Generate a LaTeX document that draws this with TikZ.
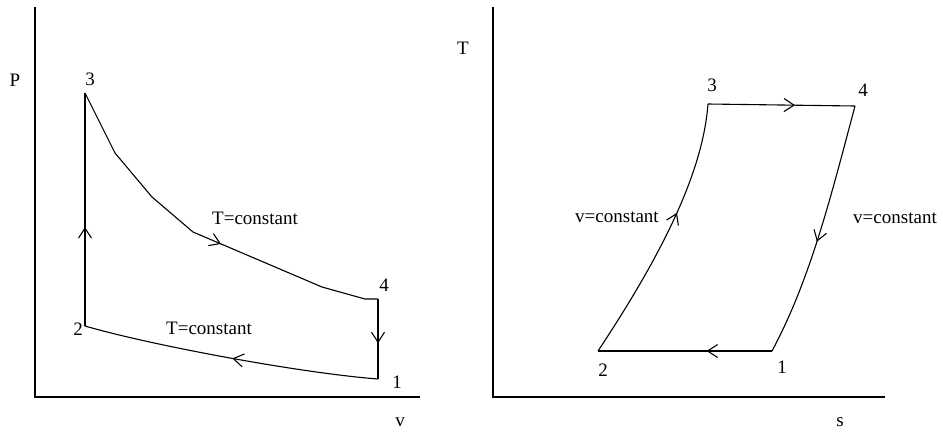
\documentclass[tikz,border=0pt]{standalone}
\usepackage{fontspec}
\setmainfont{Liberation Serif}
\usetikzlibrary{decorations.markings}
\tikzset{
  curve/.style={line width=1.1pt,line join=miter},
  axis/.style={line width=1.1pt},
  lbl/.style={inner sep=0pt,font=\fontsize{19}{22}\selectfont},
  midarrow/.style={postaction={decorate},decoration={markings,
     mark=at position #1 with {\draw[line width=1.1pt,line join=miter] (-10pt,-6.5pt) -- (0pt,0pt) -- (-10pt,6.5pt);}}}
}
\begin{document}
\begin{tikzpicture}[x=1pt,y=-1pt]
\useasboundingbox (0,0) rectangle (943,432);
% ---------- left: P-v diagram ----------
\coordinate (LO) at (35,397);
\coordinate (LYt) at (35,7);
\coordinate (LXr) at (420,397);
\draw[axis] (LYt) -- (LO) -- (LXr);
\coordinate (A2) at (85,326);
\coordinate (A3) at (85,93);
\coordinate (Aa) at (115,153);
\coordinate (Ab) at (152,197);
\coordinate (Ac) at (193,232);
\coordinate (Ad) at (322,287);
\coordinate (Ae) at (365,299);
\coordinate (A4) at (378,299);
\coordinate (A1) at (378,379);
\draw[curve,midarrow=0.42] (A2) -- (A3);
\draw[curve] (A3) -- (Aa) -- (Ab) -- (Ac);
\draw[curve,midarrow=0.21] (Ac) -- (Ad);
\draw[curve] (Ad) -- (Ae) -- (A4);
\draw[curve,midarrow=0.54] (A4) -- (A1);
\draw[curve,midarrow=0.49] (A1) .. controls (300,373) and (150,345) .. (A2);
\node[lbl] (P) at (15,80) {P};
\node[lbl] (n3) at (90,79) {3};
\node[lbl] (n4) at (384,285) {4};
\node[lbl] (n2) at (78,329) {2};
\node[lbl] (n1) at (397,382) {1};
\node[lbl] (tc1) at (255,218) {T=constant};
\node[lbl] (tc2) at (209,328) {T=constant};
\node[lbl] (v) at (400,422) {v};
% ---------- right: T-s diagram ----------
\coordinate (RO) at (493,397);
\coordinate (RYt) at (493,7);
\coordinate (RXr) at (885,397);
\draw[axis] (RYt) -- (RO) -- (RXr);
\coordinate (B2) at (598,351);
\coordinate (B3) at (708,104);
\coordinate (B4) at (855,106);
\coordinate (B1) at (772,351);
\draw[curve,midarrow=0.58] (B2) .. controls (665,250) and (703,170) .. (B3);
\draw[curve,midarrow=0.585] (B3) -- (B4);
\draw[curve,midarrow=0.54] (B4) .. controls (830,200) and (810,280) .. (B1);
\draw[curve,midarrow=0.37] (B1) -- (B2);
\node[lbl] (T) at (463,48) {T};
\node[lbl] (m3) at (712,85) {3};
\node[lbl] (m4) at (863,90) {4};
\node[lbl] (m2) at (603,370) {2};
\node[lbl] (m1) at (782,367) {1};
\node[lbl] (vc1) at (617,217) {v=constant};
\node[lbl] (vc2) at (895,218) {v=constant};
\node[lbl] (s) at (840,422) {s};
\end{tikzpicture}
\end{document}
